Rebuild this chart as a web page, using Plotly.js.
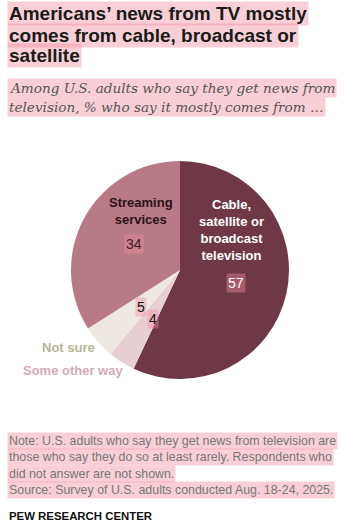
<!DOCTYPE html>
<html><head><meta charset="utf-8">
<script src="https://cdn.plot.ly/plotly-3.0.1.min.js"></script>
<style>html,body{margin:0;padding:0;background:#fff;}#chart{width:346px;height:524px;}</style>
</head><body><div id="chart"></div>
<script>
const categories = ["Cable, satellite or broadcast television", "Some other way", "Not sure", "Streaming services"];
const values = [57, 4, 5, 34];
const labelLines = [["Cable,", "satellite or", "broadcast", "television"], ["Some other way"], ["Not sure"], ["Streaming", "services"]];
const titleLines = ["Americans\u2019 news from TV mostly", "comes from cable, broadcast or", "satellite"];
const subtitleLines = ["Among U.S. adults who say they get news from", "television, % who say it mostly comes from \u2026"];
const noteLines = ["Note: U.S. adults who say they get news from television are", "those who say they do so at least rarely. Respondents who", "did not answer are not shown.", "Source: Survey of U.S. adults conducted Aug. 18-24, 2025."];
const sourceLabel = "PEW RESEARCH CENTER";

const W = 346, H = 524;
const colors = ["#6f3846", "#e8cfd4", "#ede9e2", "#b87a87"];
const HL = "rgba(240,140,160,0.42)";
const px = x => x / W, py = y => 1 - y / H;

const cx = 180, cy = 270, R = 109;
const ann = [];
function line(text, x, y, font, opts) {
  ann.push(Object.assign({text: text, x: px(x), y: py(y), xref: "paper", yref: "paper",
    xanchor: "left", yanchor: "middle", showarrow: false, font: font, borderpad: 1}, opts || {}));
}
const titleFont = {family: "Liberation Sans, Arial, sans-serif", size: 19, color: "#1a1a1a", weight: "bold"};
titleLines.forEach((t, i) => line("<b>" + t + "</b>", 7, 14 + i * 21, titleFont, {bgcolor: HL}));
const subFont = {family: "DejaVu Serif, Georgia, serif", size: 13.6, color: "#555555", style: "italic"};
subtitleLines.forEach((t, i) => line("<i>" + t + "</i>", 7, 88 + i * 19, subFont, {bgcolor: HL}));
const noteFont = {family: "Liberation Sans, Arial, sans-serif", size: 12.4, color: "#777777"};
noteLines.forEach((t, i) => line(t, 7, 441 + i * 16.3, noteFont, {bgcolor: HL}));
line("<b>" + sourceLabel + "</b>", 7, 516, {family: "Liberation Sans, Arial, sans-serif", size: 11.4, color: "#111"});

// category labels
const catLabelPos = [[231, 230, "#ffffff"], [73, 370, "#d6aab6"], [68, 347, "#b7b697"], [141, 211, "#2a1418"]];
categories.forEach((c, i) => {
  const p = catLabelPos[i];
  ann.push({text: "<b>" + labelLines[i].join("<br>") + "</b>", x: px(p[0]), y: py(p[1]), xref: "paper", yref: "paper",
    xanchor: "center", yanchor: "middle", showarrow: false, align: "center",
    font: {family: "Liberation Sans, Arial, sans-serif", size: 13, color: p[2]}});
});
// value labels
const valPos = [[236, 283, "#ffffff"], [153, 319, "#111"], [141, 307, "#111"], [134, 244, "#3a1a22"]];
values.forEach((v, i) => {
  const p = valPos[i];
  ann.push({text: String(v), x: px(p[0]), y: py(p[1]), xref: "paper", yref: "paper",
    xanchor: "center", yanchor: "middle", showarrow: false, bgcolor: HL, borderpad: 1,
    font: {family: "Liberation Sans, Arial, sans-serif", size: 14, color: p[2]}});
});

const data = [{
  type: "pie", values: values, labels: categories, sort: false, direction: "clockwise", rotation: 0,
  marker: {colors: colors, line: {width: 0}}, textinfo: "none", hoverinfo: "none",
  domain: {x: [(cx - R) / W, (cx + R) / W], y: [1 - (cy + R) / H, 1 - (cy - R) / H]}
}];
const layout = {width: W, height: H, margin: {l: 0, r: 0, t: 0, b: 0}, showlegend: false,
  paper_bgcolor: "#ffffff", annotations: ann};
Plotly.newPlot("chart", data, layout, {displayModeBar: false, staticPlot: true});
</script></body></html>
